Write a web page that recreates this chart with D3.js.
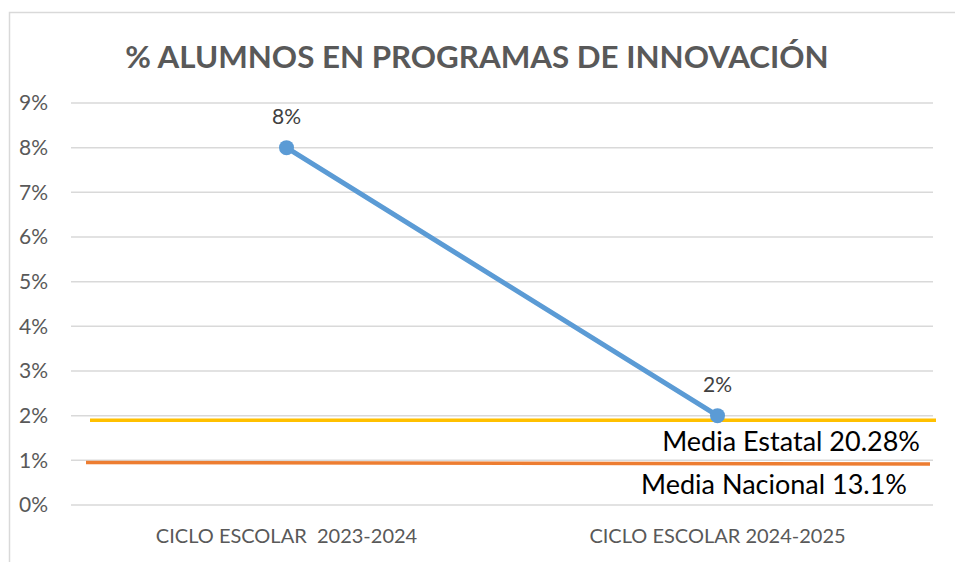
<!DOCTYPE html>
<html lang="es">
<head>
  <meta charset="UTF-8">
  <title>% Alumnos en programas de innovación</title>
  <style>
    body { margin: 0; background: #fff; }
    text { font-family: Lato, "Open Sans", sans-serif; }
  </style>
</head>
<body>
  <svg></svg>
  <script src="https://cdn.jsdelivr.net/npm/d3@7"></script>
  <script>
    var categories = ["CICLO ESCOLAR  2023-2024", "CICLO ESCOLAR 2024-2025"]
    var values = [8, 2]
    var yTicks = [0, 1, 2, 3, 4, 5, 6, 7, 8, 9]
    var refNames = ["Media Estatal 20.28%", "Media Nacional 13.1%"]
    var refStart = [1.9, 0.95]
    var refEnd = [1.9, 0.92]
    var refColors = ["#FFC000", "#ED7D31"]

    var width = 955
    var height = 562
    var plotL = 71, plotR = 933, plotT = 103, plotB = 505

    var svg = d3.select("svg")
      .attr("width", width)
      .attr("height", height)

    // chart frame (only top and left visible)
    svg.append("path")
      .attr("d", `M9.5,${height} V12.5 H${width}`)
      .attr("fill", "none")
      .attr("stroke", "#d9d9d9")
      .attr("stroke-width", 1.5)

    var x = d3.scaleBand().domain(categories).range([plotL, plotR])
    var y = d3.scaleLinear().domain([0, 9]).range([plotB, plotT])

    svg.append("text")
      .attr("x", 477).attr("y", 68)
      .attr("text-anchor", "middle")
      .attr("font-size", 31.3).attr("font-weight", "bold")
      .attr("fill", "#595959")
      .text("% ALUMNOS EN PROGRAMAS DE INNOVACIÓN")

    // gridlines
    svg.append("g").selectAll("line")
      .data(yTicks)
      .join("line")
      .attr("x1", plotL).attr("x2", plotR)
      .attr("y1", d => y(d)).attr("y2", d => y(d))
      .attr("stroke", "#d9d9d9").attr("stroke-width", 1.5)

    var yAxis = svg.append("g")
      .attr("transform", `translate(${plotL - 23}, 0)`)
      .call(d3.axisLeft(y).tickValues(yTicks).tickFormat(d => d + "%").tickSize(0).tickPadding(0))
    yAxis.select(".domain").remove()
    yAxis.selectAll("text").attr("font-size", 21).attr("fill", "#595959")
      .style("font-family", "Lato, 'Open Sans', sans-serif")

    var xAxis = svg.append("g")
      .attr("transform", `translate(0, ${plotB + 38})`)
      .call(d3.axisBottom(x).tickSize(0).tickPadding(0))
    xAxis.select(".domain").remove()
    xAxis.selectAll("text").attr("font-size", 20).attr("fill", "#595959")
      .attr("dy", 0)
      .style("font-family", "Lato, 'Open Sans', sans-serif")
      .style("white-space", "pre")

    // reference lines
    var refs = refNames.map((n, i) => ({name: n, a: refStart[i], b: refEnd[i], color: refColors[i]}))
    svg.append("g").selectAll("line")
      .data(refs)
      .join("line")
      .attr("x1", (d, i) => plotL + (i === 0 ? 19 : 15))
      .attr("x2", (d, i) => plotR + (i === 0 ? 3 : -3))
      .attr("y1", d => y(d.a)).attr("y2", d => y(d.b))
      .attr("stroke", d => d.color).attr("stroke-width", 3.5)
    svg.append("g").selectAll("text")
      .data(refs)
      .join("text")
      .attr("x", (d, i) => plotR - (i === 0 ? 13 : 26))
      .attr("y", d => y(d.a) + 31)
      .attr("text-anchor", "end")
      .attr("font-size", 27).attr("fill", "#000")
      .text(d => d.name)

    // series
    var pts = categories.map((c, i) => [x(c) + x.bandwidth() / 2, y(values[i])])
    svg.append("path")
      .attr("d", d3.line()(pts))
      .attr("fill", "none")
      .attr("stroke", "#5B9BD5").attr("stroke-width", 5)
      .attr("stroke-linecap", "round")
    svg.append("g").selectAll("circle")
      .data(pts)
      .join("circle")
      .attr("cx", d => d[0]).attr("cy", d => d[1])
      .attr("r", 7.5).attr("fill", "#5B9BD5")
    svg.append("g").selectAll("text")
      .data(pts)
      .join("text")
      .attr("x", d => d[0]).attr("y", d => d[1] - 24)
      .attr("text-anchor", "middle")
      .attr("font-size", 21).attr("fill", "#404040")
      .text((d, i) => values[i] + "%")
  </script>
</body>
</html>
